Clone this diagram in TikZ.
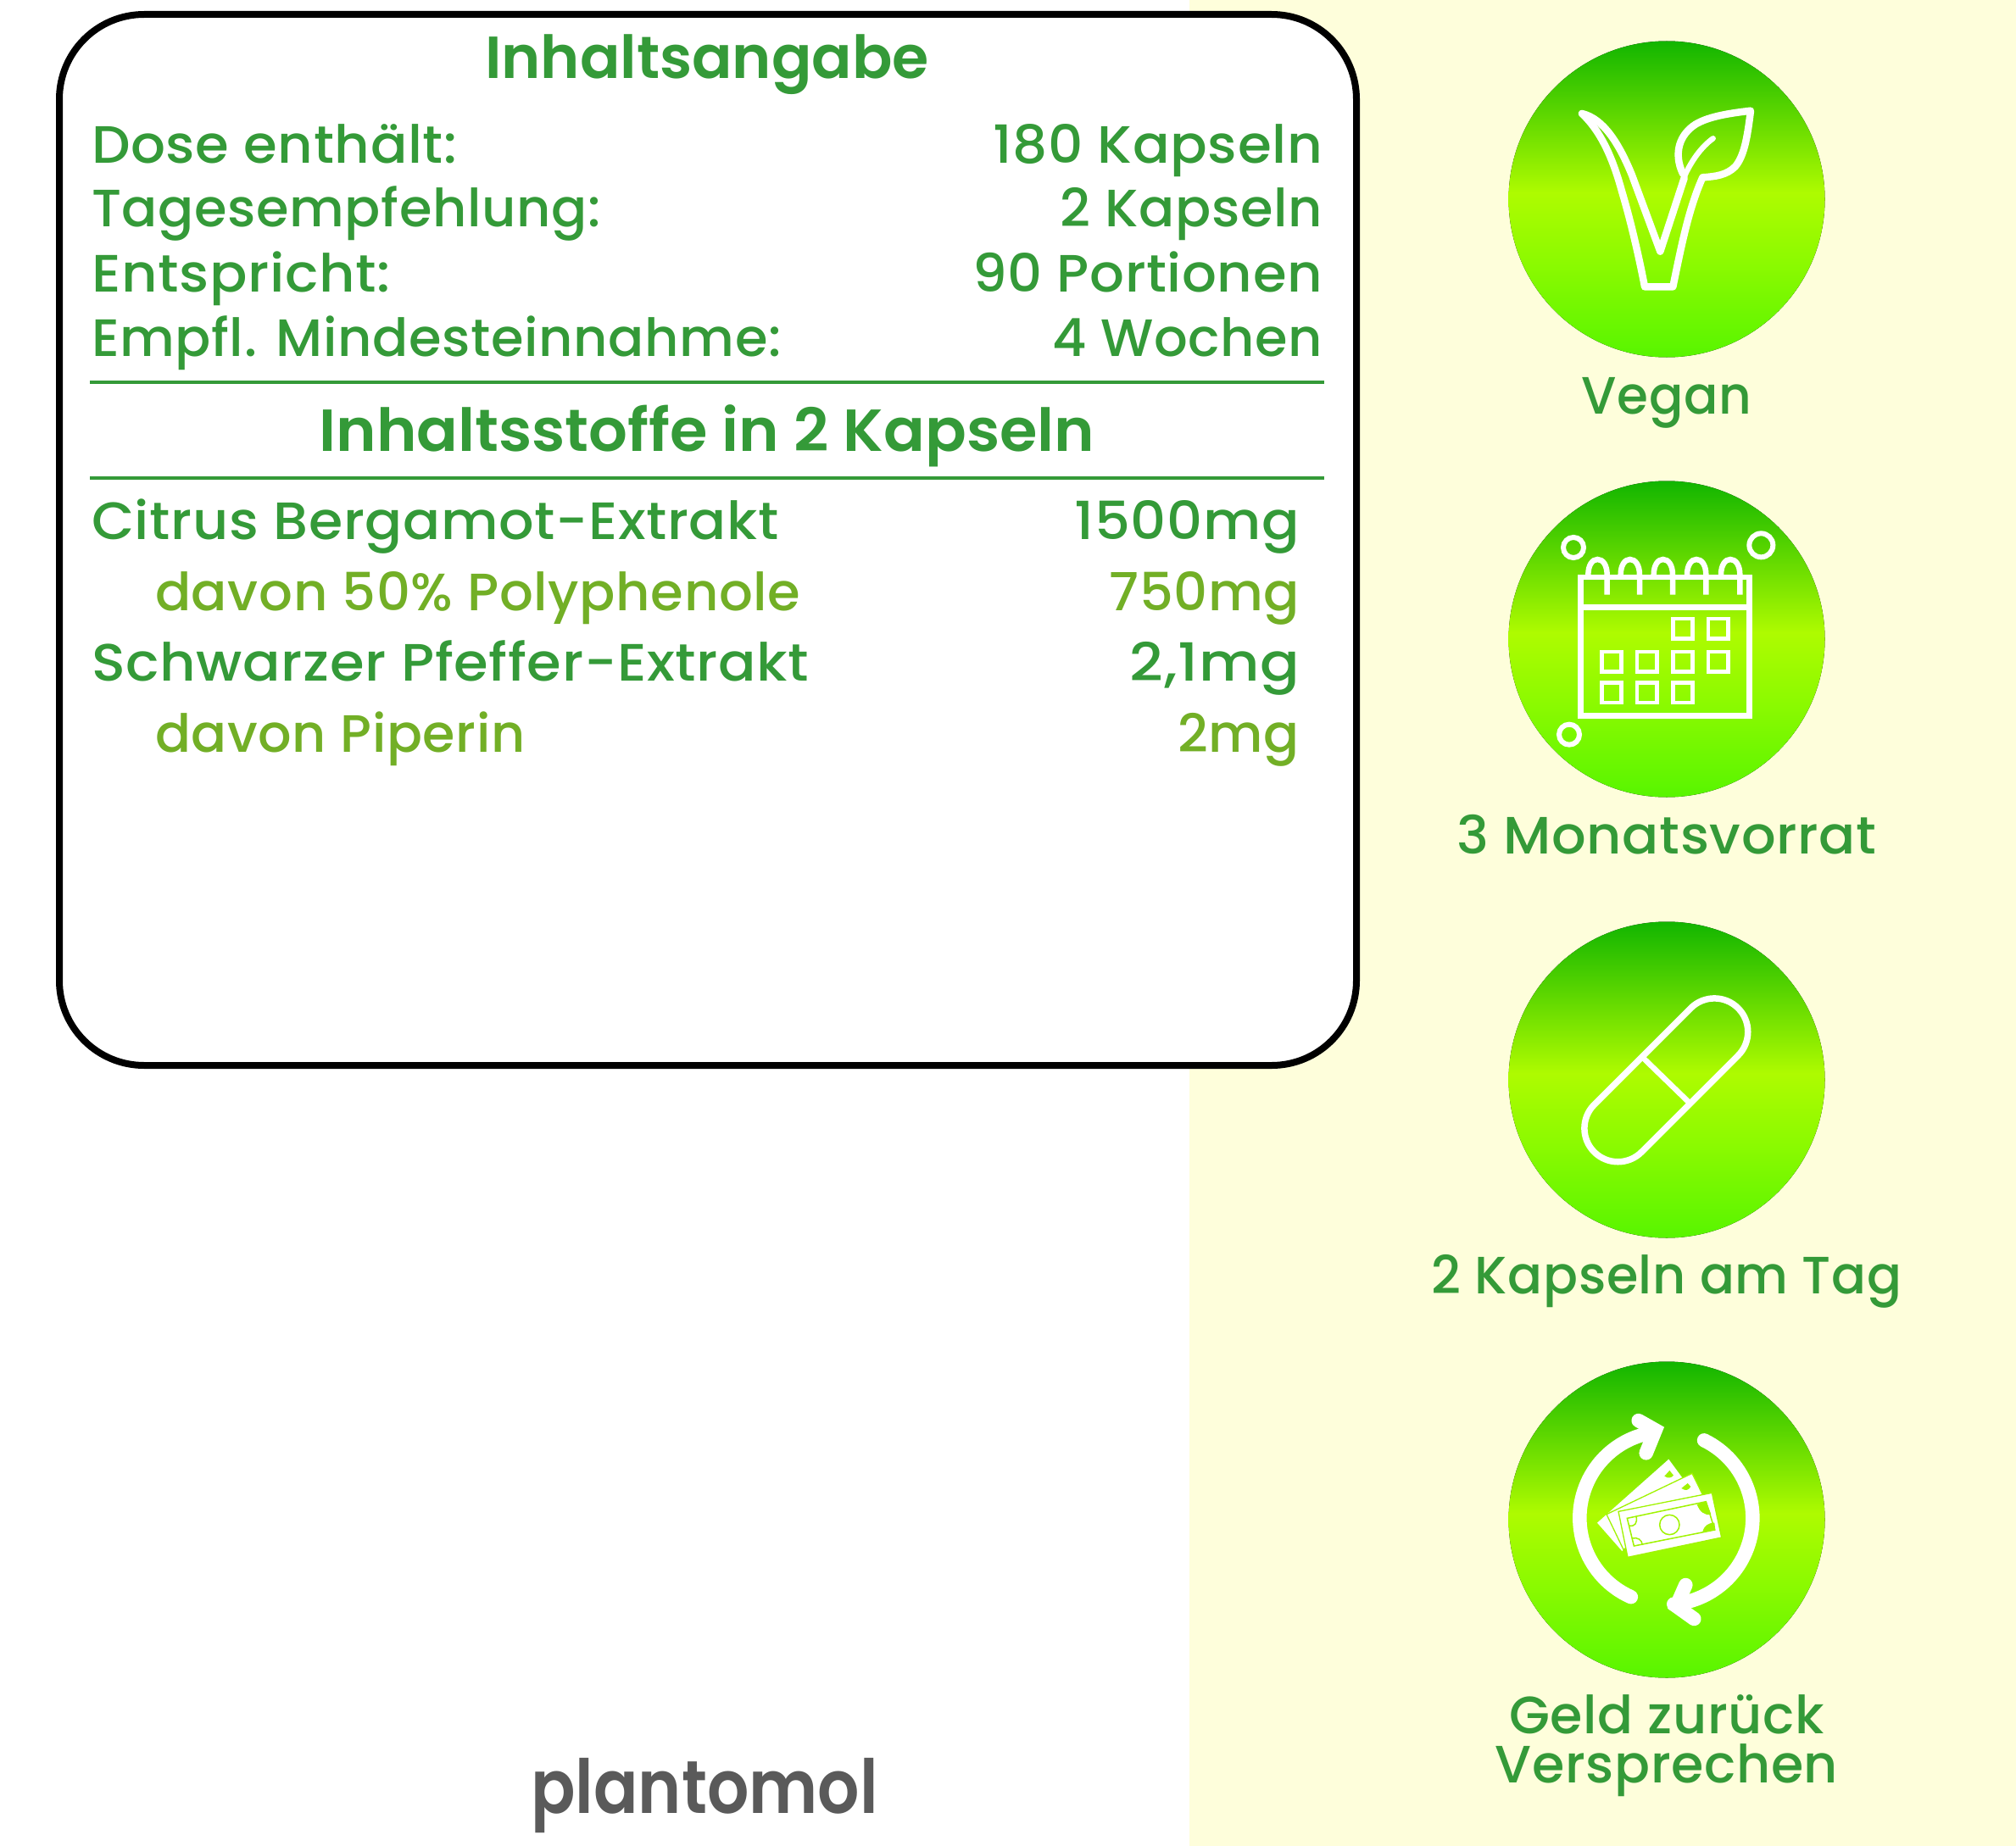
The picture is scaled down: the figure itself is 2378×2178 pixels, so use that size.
\documentclass[tikz,border=0pt]{standalone}
\usepackage{fontspec}
\setmainfont{Poppins}
\newfontfamily\headf{Poppins SemiBold}
\newfontfamily\bodyf[LetterSpace=1.0]{Poppins Medium}
\newfontfamily\logof{Poppins SemiBold}
\usetikzlibrary{shapes.misc,calc}
\definecolor{panel}{HTML}{FEFEDB}
\definecolor{gtext}{HTML}{349A38}
\definecolor{otext}{HTML}{72AF26}
\definecolor{logo}{HTML}{5A5A5A}
\definecolor{billg}{HTML}{A0F400}
\definecolor{c1}{HTML}{12B500}
\definecolor{c2}{HTML}{AEFB00}
\definecolor{c3}{HTML}{58F500}
\definecolor{c4}{HTML}{8CFA00}
\pgfdeclareverticalshading{discshade}{100bp}{color(0bp)=(c3);color(25bp)=(c3);color(40bp)=(c4);color(51bp)=(c2);color(75bp)=(c1);color(100bp)=(c1)}
\newcommand{\fs}[1]{\fontsize{#1}{#1}\selectfont}
\newcommand{\sx}[2]{\scalebox{#1}[1]{#2}}
\tikzset{
  lbl/.style={text=gtext,font=\bodyf\fs{62},inner sep=0,outer sep=0,anchor=base west},
  lblr/.style={lbl,anchor=base east},
  sub/.style={lbl,text=otext},
  subr/.style={lblr,text=otext},
  head/.style={lbl,anchor=base,font=\headf\fs{70}},
  capt/.style={lbl,anchor=base},
  rulel/.style={draw=gtext,line width=3.5pt},
  discs/.style={shading=discshade,draw=none},
  ic/.style={draw=white,line width=8.5pt,line join=round,line cap=round},
  ict/.style={draw=white,line width=6.5pt},
  bill/.style={fill=white,draw=billg,line width=1.3pt,line join=miter},
  billd/.style={draw=billg,line width=1.5pt},
}
\begin{document}
\begin{tikzpicture}[x=1pt,y=-1pt]
\useasboundingbox (0,0) rectangle (2378,2178);
\fill[white] (0,0) rectangle (2378,2178);
\fill[panel] (1403,0) rectangle (2378,2178);
\draw[black,line width=8pt,fill=white,rounded corners=100pt] (70,17) rectangle (1600,1257);
\node[head] (t1) at (834,93) {\sx{1.0}{Inhaltsangabe}};
\node[lbl] (a1) at (108,193) {\sx{1.036}{Dose enthält:}};
\node[lbl] (a2) at (108,268) {\sx{1.005}{Tagesempfehlung:}};
\node[lbl] (a3) at (108,344) {\sx{1.059}{Entspricht:}};
\node[lbl] (a4) at (108,420) {\sx{1.006}{Empfl. Mindesteinnahme:}};
\node[lblr] (b1) at (1560,193) {\sx{1.04}{180 Kapseln}};
\node[lblr] (b2) at (1560,268) {\sx{1.005}{2 Kapseln}};
\node[lblr] (b3) at (1560,344) {\sx{1.034}{90 Portionen}};
\node[lblr] (b4) at (1560,420) {\sx{1.005}{4 Wochen}};
\coordinate (r1a) at (106,451); \coordinate (r1b) at (1562,451);
\coordinate (r2a) at (106,564); \coordinate (r2b) at (1562,564);
\draw[rulel] (r1a) -- (r1b);
\draw[rulel] (r2a) -- (r2b);
\node[head] (t2) at (834,532) {\sx{1.028}{Inhaltsstoffe in 2 Kapseln}};
\node[lbl] (c1n) at (108,636) {\sx{1.05}{Citrus Bergamot-Extrakt}};
\node[sub] (c2n) at (183,720) {\sx{1.008}{davon 50\% Polyphenole}};
\node[lbl] (c3n) at (108,803) {\sx{1.06}{Schwarzer Pfeffer-Extrakt}};
\node[sub] (c4n) at (183,887) {davon Piperin};
\node[lblr] (d1) at (1533,636) {\sx{1.06}{1500mg}};
\node[subr] (d2) at (1533,720) {\sx{1.007}{750mg}};
\node[lblr] (d3) at (1533,803) {\sx{1.11}{2,1mg}};
\node[subr] (d4) at (1533,887) {2mg};
\node[inner sep=0,anchor=base,text=logo,font=\logof\fs{88}] (logo) at (831,2139) {\scalebox{0.88}[1]{plantomol}};
% discs
\fill[discs] (1966,235) circle (186.5);
\fill[discs] (1966,754) circle (186.5);
\fill[discs] (1966,1274) circle (186.5);
\fill[discs] (1966,1793) circle (186.5);
\node[capt] (e1) at (1966,488) {\sx{0.963}{Vegan}};
\node[capt] (e2) at (1966,1007) {\sx{1.028}{3 Monatsvorrat}};
\node[capt] (e3) at (1966,1526) {\sx{0.976}{2 Kapseln am Tag}};
\node[capt] (e4) at (1966,2045) {Geld zurück};
\node[capt] (e5) at (1966,2103) {Versprechen};
% vegan icon
\begin{scope}[shift={(1760,30)},x=0.33333pt,y=-0.33333pt]
\draw[ic] (318,312) .. controls (395,330) and (450,420) .. (495,530) -- (595,800) -- (680,540);
\draw[ic] (318,312) .. controls (390,380) and (430,480) .. (460,590) .. controls (490,690) and (520,820) .. (540,925) -- (640,925) .. controls (670,780) and (695,650) .. (745,538) .. controls (790,535) and (830,530) .. (860,500) .. controls (895,460) and (905,380) .. (915,302) .. controls (850,310) and (770,320) .. (720,350) .. controls (665,385) and (640,450) .. (675,525);
\draw[ic,line width=6.5pt] (782,400) .. controls (740,430) and (705,480) .. (680,535);
\end{scope}
% calendar icon
\begin{scope}[shift={(1760,550)},x=0.33333pt,y=-0.33333pt]
\draw[ict,line join=miter] (313,393) rectangle (910,883);
\draw[ict] (313,500) -- (910,500);
\foreach \cx/\cy in {675/575,800/575,423/692,548/692,675/692,800/692,423/802,548/802,675/802}
  \draw[draw=white,line width=4.5pt] (\cx-35,\cy-35) rectangle (\cx+35,\cy+35);
\draw[draw=white,line width=6pt] (288,288) circle (36);
\draw[draw=white,line width=6pt] (952,280) circle (42);
\draw[draw=white,line width=6pt] (273,950) circle (36);
\foreach \hx in {340,455,572,690,810}
  \draw[ict] (\hx,385) .. controls (\hx,350) and (\hx+15,330) .. (\hx+33,330) .. controls (\hx+52,330) and (\hx+67,350) .. (\hx+67,385) -- (\hx+67,455);
\end{scope}
% capsule icon
\begin{scope}[shift={(1760,1080)},x=0.33333pt,y=-0.33333pt]
\node[rounded rectangle,draw=white,line width=7.5pt,minimum width=240pt,minimum height=79pt,inner sep=0,outer sep=0,rotate=45] (pill) at (616,583) {};
\draw[draw=white,line width=6.5pt] (530,500) -- (700,665);
\end{scope}
% refund icon
\begin{scope}[shift={(1760,1600)},x=0.33333pt,y=-0.33333pt]
\coordinate (rc) at (616,573);
\draw[draw=white,line width=16.5pt,line cap=round] ($(rc)+(114:306)$) arc (114:258:306);
\draw[draw=white,line width=16.5pt,line cap=round] ($(rc)+(-64:306)$) arc (-64:85:306);
\draw[draw=white,line width=16.5pt,line cap=round,line join=miter] (518,228) -- (578,262) -- (545,343);
\draw[draw=white,line width=16.5pt,line cap=round,line join=miter] (715,930) -- (652,885) -- (685,810);
\fill[white] (372,590) -- (625,365) -- (680,440) -- (460,690) -- cycle;
\draw[bill] (405,560) -- (708,415) -- (745,490) -- (465,685) -- cycle;
\fill[billg] (610,425) .. controls (625,435) and (635,430) .. (642,422) -- (628,405) -- cycle;
\fill[billg] (670,468) .. controls (685,478) and (695,475) .. (703,462) -- (692,450) -- cycle;
\draw[bill] (447,550) -- (778,484) -- (812,642) -- (480,712) -- cycle;
\draw[billd] (478,574) -- (757,515) -- (788,615) -- (502,672) -- cycle;
\draw[billd] (628,597) circle (35);
\fill[billg] (725,525) .. controls (735,550) and (750,565) .. (775,560) -- (757,513) -- cycle;
\fill[billg] (745,622) .. controls (750,600) and (765,590) .. (787,590) -- (790,616) -- cycle;
\draw[billd] (485,600) .. controls (505,605) and (515,590) .. (510,568);
\draw[billd] (495,645) .. controls (515,640) and (530,650) .. (532,668);
\end{scope}
\end{tikzpicture}
\end{document}
